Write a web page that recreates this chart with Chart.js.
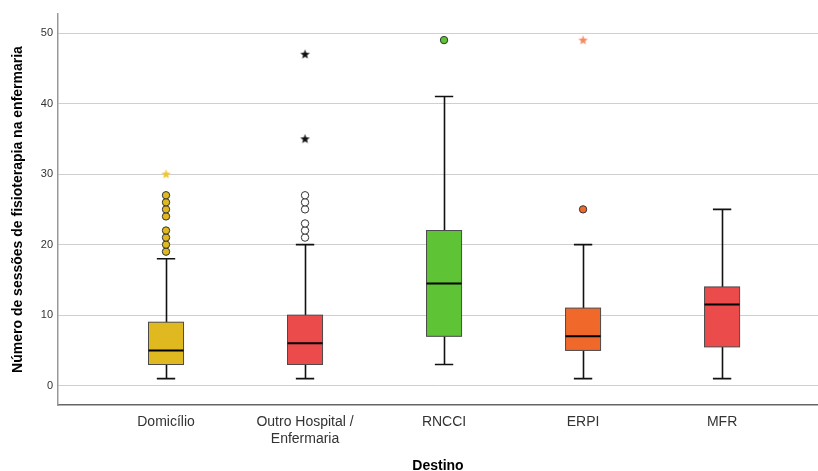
<!DOCTYPE html>
<html>
<head>
<meta charset="utf-8">
<script src="https://cdn.jsdelivr.net/npm/chart.js@4.4.1/dist/chart.umd.min.js"></script>
<style>
    body { margin: 0; background: #fff; }
</style>
</head>
<body>
<canvas id="boxChart" width="818" height="471"></canvas>
<script>
// categorias e estatísticas
const categoryLabels = ['Domicílio', ['Outro Hospital /', 'Enfermaria'], 'RNCCI', 'ERPI', 'MFR'];
const whiskerLow = [1, 1, 3, 1, 1];
const q1 = [3, 3, 7, 5, 5.5];
const median = [5, 6, 14.5, 7, 11.5];
const q3 = [9, 10, 22, 11, 14];
const whiskerHigh = [18, 20, 41, 20, 25];
const outliers = [
    [19, 20, 21, 22, 24, 25, 26, 27],
    [21, 22, 23, 25, 26, 27],
    [49],
    [25],
    []
];
const extremes = [[30], [35, 47], [], [49], []];
const yTicks = [0, 10, 20, 30, 40, 50];

const boxColors = ['#e0b920', '#eb4b4b', '#5ec435', '#f1692a', '#eb4b4b'];
const outlierFill = ['#e0b920', '#ffffff', '#5ec435', '#f1692a', '#eb4b4b'];
const starColors = ['#f0c530', '#111111', '#f58a62', '#f58a62', '#eb4b4b'];

const BOX_HALF = 0.126;
const CAP_HALF = 0.066;

function makeStar(color) {
    const c = document.createElement('canvas');
    c.width = 11;
    c.height = 11;
    const g = c.getContext('2d');
    g.fillStyle = color;
    g.beginPath();
    for (let k = 0; k < 10; k++) {
        const r = k % 2 === 0 ? 5 : 2.1;
        const a = -Math.PI / 2 + k * Math.PI / 5;
        const px = 5.5 + r * Math.cos(a);
        const py = 5.8 + r * Math.sin(a);
        if (k === 0) g.moveTo(px, py); else g.lineTo(px, py);
    }
    g.closePath();
    g.fill();
    return c;
}

const boxPlugin = {
    id: 'boxes',
    beforeDatasetsDraw(chart) {
        const { ctx, scales: { x, y } } = chart;
        categoryLabels.forEach((_, i) => {
            const cx = Math.round(x.getPixelForValue(i)) + 0.5;
            const left = x.getPixelForValue(i - BOX_HALF);
            const right = x.getPixelForValue(i + BOX_HALF);
            const capL = x.getPixelForValue(i - CAP_HALF);
            const capR = x.getPixelForValue(i + CAP_HALF);
            const yLow = y.getPixelForValue(whiskerLow[i]);
            const yHigh = y.getPixelForValue(whiskerHigh[i]);
            const yQ1 = y.getPixelForValue(q1[i]);
            const yQ3 = y.getPixelForValue(q3[i]);
            const yMed = y.getPixelForValue(median[i]);

            ctx.save();
            ctx.strokeStyle = '#111';
            ctx.lineWidth = 1.6;
            ctx.beginPath();
            ctx.moveTo(cx, yLow); ctx.lineTo(cx, yQ1);
            ctx.moveTo(cx, yQ3); ctx.lineTo(cx, yHigh);
            ctx.moveTo(capL, yLow); ctx.lineTo(capR, yLow);
            ctx.moveTo(capL, yHigh); ctx.lineTo(capR, yHigh);
            ctx.stroke();

            ctx.fillStyle = boxColors[i];
            ctx.fillRect(left, yQ3, right - left, yQ1 - yQ3);
            ctx.strokeStyle = '#4a4a4a';
            ctx.lineWidth = 1;
            ctx.strokeRect(left, yQ3, right - left, yQ1 - yQ3);

            ctx.strokeStyle = '#000';
            ctx.lineWidth = 2;
            ctx.beginPath();
            ctx.moveTo(left, yMed); ctx.lineTo(right, yMed);
            ctx.stroke();
            ctx.restore();
        });
    }
};

const outlierSets = outliers.map((vals, i) => ({
    data: vals.map(v => ({ x: i, y: v })),
    pointStyle: 'circle',
    pointRadius: 3.7,
    backgroundColor: outlierFill[i],
    borderColor: '#333',
    borderWidth: 1
}));

const extremeSets = extremes.map((vals, i) => ({
    data: vals.map(v => ({ x: i, y: v })),
    pointStyle: makeStar(starColors[i]),
    pointRadius: 5
}));

const fontFamily = "'Liberation Sans', Arial, sans-serif";

new Chart(document.getElementById('boxChart'), {
    type: 'scatter',
    data: { datasets: [...outlierSets, ...extremeSets] },
    plugins: [boxPlugin],
    options: {
        responsive: false,
        animation: false,
        events: [],
        layout: { autoPadding: false, padding: { top: 14, right: 0, left: 0, bottom: 0 } },
        plugins: { legend: { display: false }, tooltip: { enabled: false } },
        scales: {
            x: {
                type: 'linear',
                min: -0.777,
                max: 4.69,
                afterBuildTicks: scale => { scale.ticks = categoryLabels.map((_, i) => ({ value: i })); },
                afterFit: scale => {
                    scale.height = 66;
                    scale.paddingLeft = 0;
                    scale.paddingRight = 0;
                },
                grid: { display: false, drawTicks: false },
                border: { display: true, color: '#666', width: 1.5 },
                ticks: {
                    padding: 9,
                    color: '#333',
                    font: { family: fontFamily, size: 14 },
                    maxRotation: 0,
                    autoSkip: false,
                    callback: v => categoryLabels[v]
                },
                title: {
                    display: true,
                    text: 'Destino',
                    color: '#000',
                    font: { family: fontFamily, size: 14, weight: 'bold' },
                    padding: { top: 0, bottom: -4 }
                }
            },
            y: {
                min: -2.74,
                max: 52.7,
                afterBuildTicks: scale => { scale.ticks = yTicks.map(v => ({ value: v })); },
                afterFit: scale => { scale.width = 58; },
                grid: { color: '#cfcfcf', lineWidth: 1, drawTicks: false },
                border: { display: true, color: '#999', width: 1.5 },
                ticks: {
                    padding: 5,
                    color: '#333',
                    font: { family: fontFamily, size: 11 }
                },
                title: {
                    display: true,
                    text: 'Número de sessões de fisioterapia na enfermaria',
                    color: '#000',
                    font: { family: fontFamily, size: 14, weight: 'bold' },
                    padding: { top: 10, bottom: 0 }
                }
            }
        }
    }
});
</script>
</body>
</html>
